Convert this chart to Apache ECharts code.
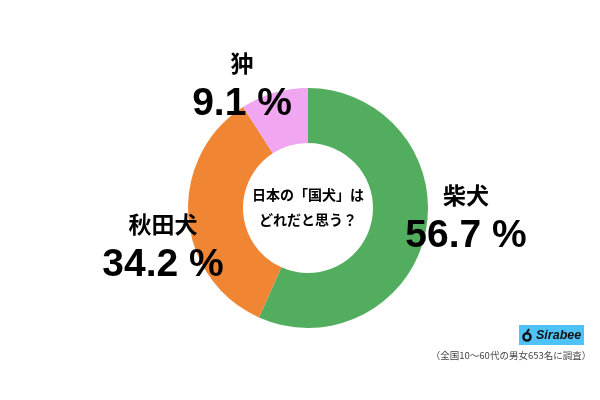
<!DOCTYPE html>
<html>
<head>
<meta charset="utf-8">
<script src="https://cdn.jsdelivr.net/npm/echarts@6/dist/echarts.min.js"></script>
<style>
html,body{margin:0;padding:0;background:#fff;}
#main{width:600px;height:400px;}
</style>
</head>
<body>
<div id="main"></div>
<script>
const categories = ['柴犬','秋田犬','狆'];
const values = [56.7,34.2,9.1];
const colors = ['#52ad5f','#f08533','#f0a6f0'];
// label anchor on the canvas, one per slice
const labelPos = [[466,217],[163,246],[242,85]];
const centerLines = ['日本の「国犬」は','どれだと思う？'];
const note = '（全国10～60代の男女653名に調査）';
const jpFont = '"Noto Sans CJK JP"';

let myChart = echarts.init(document.getElementById('main'));

myChart.setOption({
    backgroundColor:'#fff',
    animation:false,
    series:[{
        type:'pie',
        center:[308,208],
        radius:[65,120],
        startAngle:90,
        clockwise:true,
        silent:true,
        itemStyle:{borderWidth:0},
        labelLine:{show:false},
        label:{
            show:true,
            position:'outside',
            overflow:'none',
            formatter:(p)=>`{name|${p.name}}\n{val|${p.value.toFixed(1)} %}`,
            rich:{
                name:{fontFamily:jpFont,fontWeight:'bold',fontSize:23,lineHeight:38,color:'#000',align:'center'},
                val:{fontFamily:'"Liberation Sans"',fontWeight:'bold',fontSize:39,lineHeight:44,color:'#000',align:'center'}
            }
        },
        labelLayout:(params)=>{
            let pos = labelPos[params.dataIndex];
            return {x:pos[0],y:pos[1],align:'center',verticalAlign:'middle'};
        },
        data:categories.map((name,i)=>({
            name:name,
            value:values[i],
            itemStyle:{color:colors[i]}
        }))
    }],
    graphic:[
        {
            type:'text',
            x:308,y:195,
            style:{text:centerLines[0],fontFamily:jpFont,fontWeight:'bold',fontSize:14,fill:'#000',align:'center',verticalAlign:'middle'}
        },
        {
            type:'text',
            x:308,y:220,
            style:{text:centerLines[1],fontFamily:jpFont,fontWeight:'bold',fontSize:14,fill:'#000',align:'center',verticalAlign:'middle'}
        },
        {
            type:'rect',
            shape:{x:519,y:325,width:65,height:20},
            style:{fill:'#4fc3f7'}
        },
        {
            type:'circle',
            shape:{cx:527,cy:337,r:3.6},
            style:{fill:'none',stroke:'#111',lineWidth:2.4}
        },
        {
            type:'line',
            shape:{x1:526,y1:334,x2:529,y2:329},
            style:{stroke:'#111',lineWidth:2}
        },
        {
            type:'text',
            x:536,y:335.5,
            style:{text:'Sirabee',fontFamily:'"Liberation Sans"',fontWeight:'bold',fontStyle:'italic',fontSize:12.5,fill:'#111',align:'left',verticalAlign:'middle'}
        },
        {
            type:'text',
            x:511,y:355,
            style:{text:note,fontFamily:jpFont,fontSize:9.5,fill:'#444',align:'center',verticalAlign:'middle'}
        }
    ]
});
</script>
</body>
</html>
